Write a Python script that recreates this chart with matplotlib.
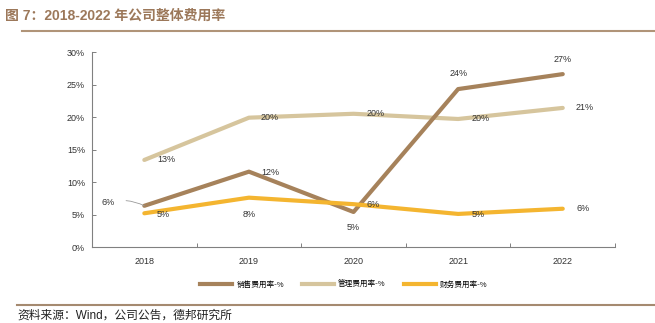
import matplotlib
matplotlib.use("Agg")
import matplotlib.pyplot as plt
from matplotlib.lines import Line2D

plt.rcParams['font.family'] = ['Liberation Sans', 'Noto Sans CJK SC', 'DejaVu Sans']

# data
years = ['2018', '2019', '2020', '2021', '2022']
sales_rate = [6.35, 11.6, 5.4, 24.3, 26.6]
admin_rate = [13.4, 19.9, 20.5, 19.7, 21.4]
fin_rate = [5.2, 7.6, 6.6, 5.1, 5.9]
sales_lbl = ['6%', '12%', '5%', '24%', '27%']
admin_lbl = ['13%', '20%', '20%', '20%', '21%']
fin_lbl = ['5%', '8%', '6%', '5%', '6%']
series_names = ['销售费用率-%', '管理费用率-%', '财务费用率-%']
y_ticks = [0, 5, 10, 15, 20, 25, 30]

c_sales = '#A6825B'
c_admin = '#D6C59D'
c_fin = '#F4B530'

fig = plt.figure(figsize=(6.55, 3.23), dpi=100)
ax = fig.add_axes([0.1405, 0.235, 0.7985, 0.604])

x = list(range(len(years)))
ax.plot(x, sales_rate, color=c_sales, lw=3, solid_capstyle='round', zorder=3)
ax.plot(x, admin_rate, color=c_admin, lw=3, solid_capstyle='round', zorder=2)
ax.plot(x, fin_rate, color=c_fin, lw=3, solid_capstyle='round', zorder=4)

# label offsets in pixels (dx, dy)
sales_off = [None, (21, -1), (0, -16), (0, 16), (0, 15)]
admin_off = [(22, 0), (21, 0), (22, 0), (22, 0), (22, 0)]
fin_off = [(19, -1), (0, -17), (20, 0), (20, -1), (20, 0)]

lbl_kw = dict(textcoords='offset pixels', ha='center', va='center',
              fontsize=6.5, color='#333333', zorder=6)
for i in x:
    if sales_off[i] is not None:
        ax.annotate(sales_lbl[i], (i, sales_rate[i]), xytext=sales_off[i], **lbl_kw)
    ax.annotate(admin_lbl[i], (i, admin_rate[i]), xytext=admin_off[i], **lbl_kw)
    ax.annotate(fin_lbl[i], (i, fin_rate[i]), xytext=fin_off[i], **lbl_kw)

# first sales label with leader line
ax.annotate(sales_lbl[0], (0, sales_rate[0]), xytext=(-36, 3), **lbl_kw,
            arrowprops=dict(arrowstyle='-', color='#999999', lw=0.6,
                            shrinkA=6, shrinkB=0,
                            connectionstyle='arc3,rad=-0.2'))

ax.set_xlim(-0.5, len(years) - 0.5)
ax.set_ylim(0, 30)
ax.set_yticks(y_ticks)
ax.set_yticklabels([f'{v}%' for v in y_ticks])
ax.set_xticks(x)
ax.set_xticklabels(years)
ax.set_xticks([i - 0.5 for i in range(len(years) + 1)], minor=True)
ax.tick_params(axis='x', which='major', length=0, pad=7, labelsize=6.5, labelcolor='#333333')
ax.tick_params(axis='x', which='minor', direction='in', length=3, color='#808080', width=0.7)
ax.tick_params(axis='y', direction='in', length=3, color='#808080', width=0.7,
               labelsize=6.5, labelcolor='#333333', pad=5)
for s in ['top', 'right']:
    ax.spines[s].set_visible(False)
for s in ['left', 'bottom']:
    ax.spines[s].set_color('#808080')
    ax.spines[s].set_linewidth(0.8)

handles = [Line2D([], [], color=c, lw=3) for c in (c_sales, c_admin, c_fin)]
fig.legend(handles, series_names, loc='center', bbox_to_anchor=(344 / 655, 1 - 285 / 323),
           ncol=3, frameon=False, handlelength=4.2, handletextpad=0.5,
           columnspacing=2.4, prop={'family': ['Noto Sans CJK SC'], 'size': 5.5})

# title and frame lines
fig.text(0.008, 1 - 16 / 323, '图 7：2018-2022 年公司整体费用率', fontsize=10, fontweight='bold',
         color='#9C785A', va='center', ha='left',
         family=['Liberation Sans', 'Noto Sans CJK SC'])
fig.add_artist(Line2D([22 / 655, 1.0], [1 - 31 / 323] * 2, color='#B09478', lw=1.5))
fig.add_artist(Line2D([17 / 655, 1.0], [1 - 305 / 323] * 2, color='#A58A70', lw=1.5))
fig.text(17 / 655, 1 - 316 / 323, '资料来源：Wind，公司公告，德邦研究所', fontsize=8.5,
         color='#222222', va='center', ha='left',
         family=['Liberation Sans', 'Noto Sans CJK SC'])

fig.savefig('out.png', dpi=100)
